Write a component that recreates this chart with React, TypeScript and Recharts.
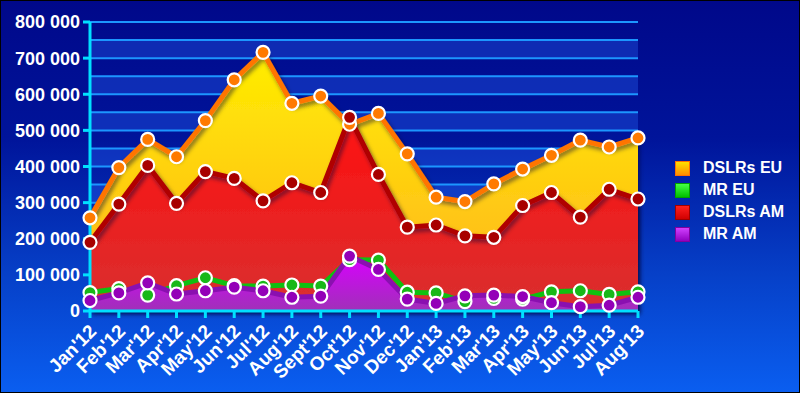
import React from 'react';
import { AreaChart, Area, XAxis, YAxis, ReferenceLine, ReferenceArea } from 'recharts';

const months = ["Jan'12","Feb'12","Mar'12","Apr'12","May'12","Jun'12","Jul'12","Aug'12","Sept'12","Oct'12","Nov'12","Dec'12","Jan'13","Feb'13","Mar'13","Apr'13","May'13","Jun'13","Jul'13","Aug'13"];
const dslrsEU = [258000,397000,475000,427000,527000,640000,716000,575000,595000,517000,547000,435000,315000,303000,352000,393000,431000,473000,454000,479000];
const dslrsAM = [190000,296000,403000,298000,386000,367000,305000,355000,328000,536000,378000,232000,238000,208000,204000,292000,328000,260000,337000,310000];
const mrEU = [51000,62000,44000,70000,92000,70000,69000,72000,69000,142000,141000,52000,50000,26000,35000,33000,53000,56000,46000,53000];
const mrAM = [29000,50000,78000,47000,56000,66000,56000,38000,41000,152000,115000,33000,21000,42000,44000,40000,23000,12000,16000,38000];
const yTicks = [0,100000,200000,300000,400000,500000,600000,700000,800000];
const gridLines = [50000,100000,150000,200000,250000,300000,350000,400000,450000,500000,550000,600000,650000,700000,750000,800000];
const lightBands = [[0,50000],[100000,150000],[200000,250000],[300000,350000],[400000,450000],[500000,550000],[600000,650000],[700000,750000]];

const data = months.map((m, i) => ({ month: m, dslrsEU: dslrsEU[i], dslrsAM: dslrsAM[i], mrEU: mrEU[i], mrAM: mrAM[i] }));

const legendItems = [
  { name: 'DSLRs EU', c1: '#ffe000', c2: '#ff8c00', border: '#ff7000' },
  { name: 'MR EU', c1: '#44ff44', c2: '#00c000', border: '#00a000' },
  { name: 'DSLRs AM', c1: '#ff2020', c2: '#d00000', border: '#a00000' },
  { name: 'MR AM', c1: '#d040ff', c2: '#9000c0', border: '#8000a0' },
];

const FONT = '"Liberation Sans", Arial, sans-serif';

const fmt = (v: number) => {
  if (v === 0) return '0';
  const s = String(v);
  return s.replace(/\B(?=(\d{3})+(?!\d))/g, ' ');
};

const XTick = (props: any) => {
  const { x, y, payload } = props;
  const ax = x + 4;
  const ay = y + 9;
  return (
    <text x={ax} y={ay} transform={`rotate(-45, ${ax}, ${ay})`} textAnchor="end" fill="#ffffff"
      fontFamily={FONT} fontWeight="bold" fontSize={19} dominantBaseline="middle">
      {payload.value}
    </text>
  );
};

const makeDot = (fill: string) => (props: any) => {
  const { cx, cy, key } = props;
  if (cx == null || cy == null) return <g key={key} />;
  return <circle key={key} cx={cx} cy={cy} r={6.5} fill={fill} stroke="#ffffff" strokeWidth={2.2} />;
};

export default function App() {
  return (
    <div style={{ position: 'absolute', left: 0, top: 0, width: 800, height: 393, boxSizing: 'border-box', border: '1px solid #000', background: 'linear-gradient(to bottom, #00088a 0%, #00149a 35%, #0640c8 70%, #0a5ef0 100%)', overflow: 'hidden' }}>
      <div style={{ position: 'absolute', left: -1, top: -1 }}>
        <AreaChart width={800} height={393} data={data} margin={{ top: 22, right: 162, bottom: 0, left: 0 }}>
          <defs>
            <linearGradient id="gY" x1="0" y1="0" x2="0" y2="1">
              <stop offset="0%" stopColor="#ffee00" />
              <stop offset="100%" stopColor="#ffb020" />
            </linearGradient>
            <linearGradient id="gR" x1="0" y1="0" x2="0" y2="1">
              <stop offset="0%" stopColor="#ff1010" />
              <stop offset="100%" stopColor="#d83030" />
            </linearGradient>
            <linearGradient id="gP" x1="0" y1="0" x2="0" y2="1">
              <stop offset="0%" stopColor="#d800ff" />
              <stop offset="100%" stopColor="#a030b8" />
            </linearGradient>
            <filter id="sh" x="-10%" y="-10%" width="120%" height="130%">
              <feDropShadow dx="2" dy="3" stdDeviation="2" floodColor="#000030" floodOpacity="0.5" />
            </filter>
          </defs>
          <XAxis dataKey="month" interval={0} height={82} axisLine={{ stroke: '#00e0ff', strokeWidth: 3 }}
            tickLine={{ stroke: '#00e0ff', strokeWidth: 3 }} tickSize={7} tick={<XTick />} />
          <YAxis width={90} domain={[0, 800000]} ticks={yTicks} interval={0} tickFormatter={fmt}
            axisLine={{ stroke: '#00e0ff', strokeWidth: 3 }} tickLine={{ stroke: '#00e0ff', strokeWidth: 3 }} tickSize={7} tickMargin={3}
            tick={{ fill: '#ffffff', fontFamily: FONT, fontWeight: 'bold', fontSize: 18 }} />
          {lightBands.map((b, i) => (
            <ReferenceArea key={'b' + i} y1={b[0]} y2={b[1]} fill="#2a6cff" fillOpacity={0.32} stroke="none" zIndex={-60} />
          ))}
          {gridLines.map((v) => (
            <ReferenceLine key={'g' + v} y={v} stroke="#1c96ff" strokeWidth={2} zIndex={-50} />
          ))}
          <Area type="linear" dataKey="dslrsEU" stroke="#ff7400" strokeWidth={5} fill="url(#gY)" fillOpacity={1}
            dot={makeDot('#ff7a00')} activeDot={false} isAnimationActive={false} style={{ filter: 'url(#sh)' }} />
          <Area type="linear" dataKey="dslrsAM" stroke="#b00000" strokeWidth={5} fill="url(#gR)" fillOpacity={1}
            dot={makeDot('#a80000')} activeDot={false} isAnimationActive={false} style={{ filter: 'url(#sh)' }} />
          <Area type="linear" dataKey="mrEU" stroke="#10c010" strokeWidth={5} fill="none" fillOpacity={0}
            dot={makeDot('#18b818')} activeDot={false} isAnimationActive={false} />
          <Area type="linear" dataKey="mrAM" stroke="#8a10b0" strokeWidth={5} fill="url(#gP)" fillOpacity={1}
            dot={makeDot('#9400b8')} activeDot={false} isAnimationActive={false} />
        </AreaChart>
      </div>
      <div style={{ position: 'absolute', left: 674, top: 156, fontFamily: FONT, fontWeight: 'bold', fontSize: 16, color: '#fff' }}>
        {legendItems.map((it) => (
          <div key={it.name} style={{ display: 'flex', alignItems: 'center', height: 22 }}>
            <div style={{ width: 13, height: 13, border: `1px solid ${it.border}`, background: `linear-gradient(to bottom, ${it.c1}, ${it.c2})`, marginRight: 13 }} />
            <span>{it.name}</span>
          </div>
        ))}
      </div>
    </div>
  );
}
